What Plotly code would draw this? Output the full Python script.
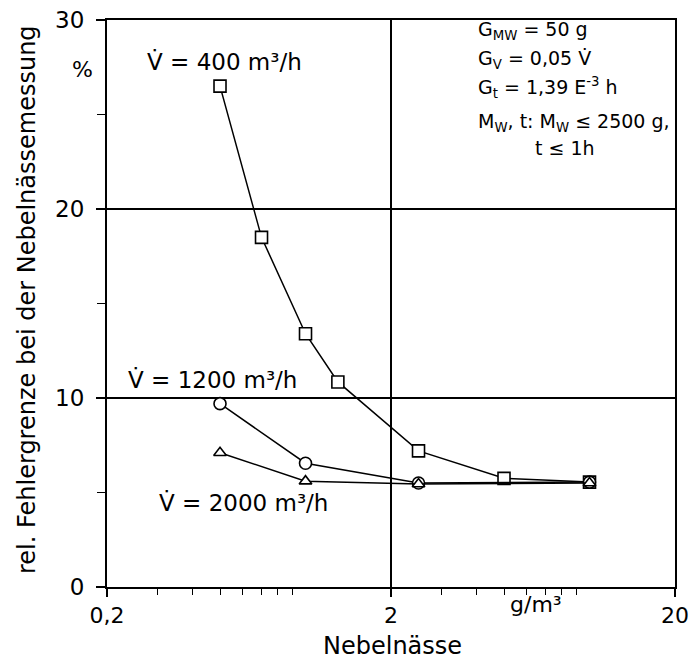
import math
import plotly.graph_objects as go

# Data (x: Nebelnässe in g/m³, y: rel. Fehlergrenze in %)
x_400 = [0.5, 0.7, 1.0, 1.3, 2.5, 5.0, 10.0]
y_400 = [26.5, 18.5, 13.4, 10.85, 7.2, 5.75, 5.55]
x_1200 = [0.5, 1.0, 2.5, 10.0]
y_1200 = [9.7, 6.55, 5.5, 5.55]
x_2000 = [0.5, 1.0, 2.5, 10.0]
y_2000 = [7.1, 5.6, 5.45, 5.5]

x_tickvals = [0.2, 2, 20]
x_ticktext = ["0,2", "2", "20"]
x_minor = [0.3, 0.4, 0.5, 0.6, 0.7, 0.8, 0.9, 3, 4, 5, 6, 7, 8, 9]
x_mid = [1, 10]
y_tickvals = [0, 10, 20, 30]
y_ticktext = ["0", "10", "20", "30"]
y_minor = [5, 15, 25]

FONT = "DejaVu Sans, Arial, sans-serif"
W, H = 692, 663
L, R, T, B = 107, 17, 20, 76
pw, ph = W - L - R, H - T - B


def px(X):
    return (X - L) / pw


def py(Y):
    return (H - B - Y) / ph


fig = go.Figure()
line = dict(color="black", width=1.5)
fig.add_trace(go.Scatter(x=x_400, y=y_400, mode="lines+markers", line=line,
                         marker=dict(symbol="square", size=12, color="white",
                                     line=dict(color="black", width=1.6)),
                         showlegend=False))
fig.add_trace(go.Scatter(x=x_1200, y=y_1200, mode="lines+markers", line=line,
                         marker=dict(symbol="circle", size=12, color="white",
                                     line=dict(color="black", width=1.6)),
                         showlegend=False))
fig.add_trace(go.Scatter(x=x_2000, y=y_2000, mode="lines+markers", line=line,
                         marker=dict(symbol="triangle-up", size=11, color="white",
                                     line=dict(color="black", width=1.6)),
                         showlegend=False))

xr = [math.log10(0.2), math.log10(20)]

fig.update_layout(
    width=W, height=H,
    margin=dict(l=L, r=R, t=T, b=B, autoexpand=False),
    paper_bgcolor="white", plot_bgcolor="white",
    font=dict(family=FONT, color="black", size=19),
    xaxis=dict(type="log", range=xr, tickmode="array", tickvals=x_tickvals,
               ticktext=x_ticktext, ticks="outside", ticklen=8, tickwidth=1.5,
               tickcolor="black", showgrid=True, gridcolor="black", gridwidth=1.5,
               showline=True, mirror=True, linecolor="black", linewidth=2,
               zeroline=False, tickfont=dict(size=22, family=FONT),
               minor=dict(tickvals=x_minor, ticks="outside", ticklen=6,
                          tickwidth=1.3, tickcolor="black", showgrid=False)),
    xaxis2=dict(type="log", range=xr, overlaying="x", anchor="y", side="bottom",
                tickmode="array", tickvals=x_mid, ticktext=["", ""],
                ticks="outside", ticklen=10, tickwidth=1.5, tickcolor="black",
                showgrid=False, showline=False, zeroline=False),
    yaxis=dict(range=[0, 30], tickmode="array", tickvals=y_tickvals,
               ticktext=y_ticktext, ticks="outside", ticklen=9, tickwidth=1.5,
               tickcolor="black", showgrid=True, gridcolor="black", gridwidth=1.5,
               showline=True, mirror=True, linecolor="black", linewidth=2,
               zeroline=False, tickfont=dict(size=23, family=FONT),
               ticklabelstandoff=7,
               minor=dict(tickvals=y_minor, ticks="outside", ticklen=8,
                          tickwidth=1.3, tickcolor="black", showgrid=False)),
)

ann = []


def add(text, X, Y, xanchor="center", size=19, angle=0):
    ann.append(dict(text=text, x=px(X), y=py(Y), xref="paper", yref="paper",
                    xanchor=xanchor, yanchor="middle", showarrow=False,
                    textangle=angle, font=dict(size=size, family=FONT, color="black")))


V = "V\u0307"
add(V + " = 400 m³/h", 224, 62, size=23)
add("%", 82, 69, size=22)
add(V + " = 1200 m³/h", 212, 380, size=23)
add(V + " = 2000 m³/h", 243, 503, size=23)
add("G<sub>MW</sub> = 50 g", 476, 30, xanchor="left")
add("G<sub>V</sub> = 0,05 " + V, 476, 59, xanchor="left")
add("G<sub>t</sub> = 1,39 E<sup>-3</sup> h", 476, 87, xanchor="left")
add("M<sub>W</sub>, t: M<sub>W</sub> ≤ 2500 g,", 476, 122, xanchor="left")
add("t ≤ 1h", 565, 148)
add("g/m³", 536, 605, size=22)
add("Nebelnässe", 392, 646, size=24)
add("rel. Fehlergrenze bei der Nebelnässemessung", 27, 300, size=24, angle=-90)
fig.update_layout(annotations=ann)

fig.write_html("out.html",
               config={"displayModeBar": False},
               post_script="document.body.style.margin='0px';"
                           "document.body.style.padding='0px';")
